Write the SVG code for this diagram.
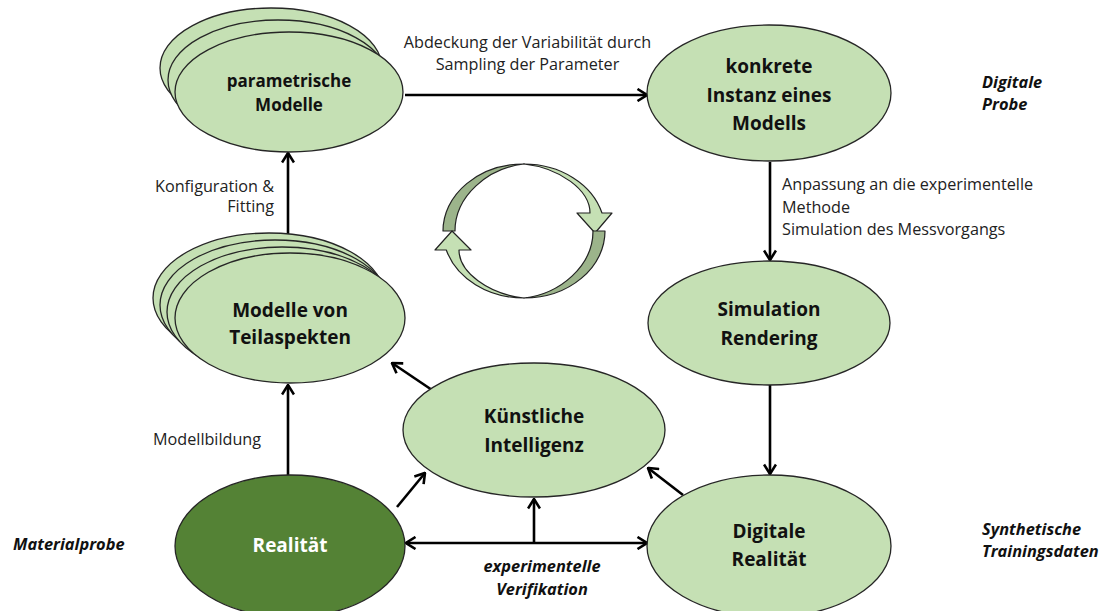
<svg xmlns="http://www.w3.org/2000/svg" width="1101" height="611" viewBox="0 0 1101 611">
<style>
.n{fill:#C5E0B4;stroke:#262626;stroke-width:1.3}
.nd{fill:#548235;stroke:#262626;stroke-width:1.3}
.t{font-family:"Open Sans","Liberation Sans",sans-serif;font-weight:bold;font-size:19px;fill:#111;text-anchor:middle}
.tw{fill:#fff}
.l{font-family:"Open Sans","Liberation Sans",sans-serif;font-size:16.2px;fill:#222}
.li{font-family:"Open Sans","Liberation Sans",sans-serif;font-size:16.4px;font-weight:bold;font-style:italic;fill:#111}
.c{stroke:#000;stroke-width:2.6;fill:none;marker-end:url(#ah)}
.cy{stroke:#222;stroke-width:1.2;stroke-linejoin:round}
</style>
<defs>
<marker id="ah" viewBox="0 0 12 14" refX="11" refY="7" markerWidth="12" markerHeight="14" markerUnits="userSpaceOnUse" orient="auto-start-reverse">
<path d="M1.5,1 L11,7 L1.5,13" fill="none" stroke="#000" stroke-width="2.6"/>
</marker>
</defs>

<g id="connectors">
<line class="c" x1="405" y1="95" x2="647" y2="95"/>
<line class="c" x1="770" y1="162" x2="770" y2="260"/>
<line class="c" x1="770" y1="385" x2="770" y2="474"/>
<line class="c" x1="288" y1="253" x2="288" y2="153"/>
<line class="c" x1="288" y1="475" x2="288" y2="385"/>
<line class="c" x1="435" y1="392" x2="392" y2="363"/>
<line class="c" x1="397" y1="507" x2="425" y2="473"/>
<line class="c" x1="683" y1="495" x2="648" y2="468"/>
<line class="c" x1="406" y1="543" x2="647" y2="543" style="marker-start:url(#ah)"/>
<line class="c" x1="534" y1="543" x2="534" y2="499"/>
</g>

<g id="cycle">
<path class="cy" fill="#9CB48B" d="M443,231 A81,67 0 0 1 524,164 C488,168 455,196 455,231 Z"/>
<path class="cy" fill="#C5E0B4" d="M524,164 A81,67 0 0 1 602,213 L612,213 L595,233 L577,213 L590,213 C590,190 560,168 524,164 Z"/>
<path class="cy" fill="#9CB48B" d="M605,231 A81,67 0 0 1 524,298 C560,294 593,266 593,231 Z"/>
<path class="cy" fill="#C5E0B4" d="M524,298 A81,67 0 0 1 446.3,250 L435,250 L452,231 L471,250 L459,250 C459,272 488,294 524,298 Z"/>
</g>

<g id="node-parametrische">
<ellipse class="n" cx="271" cy="68" rx="111" ry="60"/>
<ellipse class="n" cx="278" cy="80" rx="110" ry="60"/>
<ellipse class="n" cx="289" cy="92" rx="114" ry="60"/>
<text class="t" x="289" y="87" style="font-size:17px">parametrische</text>
<text class="t" x="289" y="111" style="font-size:17px">Modelle</text>
</g>

<g id="node-konkrete">
<ellipse class="n" cx="769" cy="93" rx="122" ry="68"/>
<text class="t" x="769" y="73">konkrete</text>
<text class="t" x="769" y="102">Instanz eines</text>
<text class="t" x="769" y="130">Modells</text>
</g>

<g id="node-teilaspekte">
<ellipse class="n" cx="269" cy="298" rx="116" ry="65"/>
<ellipse class="n" cx="275" cy="305" rx="115" ry="65"/>
<ellipse class="n" cx="282" cy="312" rx="115" ry="65"/>
<ellipse class="n" cx="290" cy="318" rx="115" ry="65"/>
<text class="t" x="290" y="317">Modelle von</text>
<text class="t" x="290" y="344">Teilaspekten</text>
</g>

<g id="node-simulation">
<ellipse class="n" cx="769" cy="323" rx="121" ry="62"/>
<text class="t" x="769" y="316">Simulation</text>
<text class="t" x="769" y="345">Rendering</text>
</g>

<g id="node-ki">
<ellipse class="n" cx="534" cy="430" rx="131" ry="67"/>
<text class="t" x="534" y="423">Künstliche</text>
<text class="t" x="534" y="452">Intelligenz</text>
</g>

<g id="node-realitaet">
<ellipse class="nd" cx="290" cy="546" rx="115" ry="71"/>
<text class="t tw" x="290" y="552">Realität</text>
</g>

<g id="node-digitale-realitaet">
<ellipse class="n" cx="769" cy="546" rx="122" ry="71"/>
<text class="t" x="769" y="538">Digitale</text>
<text class="t" x="769" y="566">Realität</text>
</g>

<g id="labels">
<text class="l" x="527.5" y="48" text-anchor="middle">Abdeckung der Variabilität durch</text>
<text class="l" x="527.5" y="70" text-anchor="middle">Sampling der Parameter</text>
<text class="l" x="274" y="192" text-anchor="end">Konfiguration &amp;</text>
<text class="l" x="274" y="212" text-anchor="end">Fitting</text>
<text class="l" x="153" y="445">Modellbildung</text>
<text class="l" x="782" y="190">Anpassung an die experimentelle</text>
<text class="l" x="782" y="213">Methode</text>
<text class="l" x="782" y="235">Simulation des Messvorgangs</text>
<text class="li" x="982" y="88">Digitale</text>
<text class="li" x="982" y="110">Probe</text>
<text class="li" x="13" y="550">Materialprobe</text>
<text class="li" x="982" y="535">Synthetische</text>
<text class="li" x="982" y="557">Trainingsdaten</text>
<text class="li" x="542" y="572" text-anchor="middle">experimentelle</text>
<text class="li" x="542" y="595" text-anchor="middle">Verifikation</text>
</g>
</svg>
